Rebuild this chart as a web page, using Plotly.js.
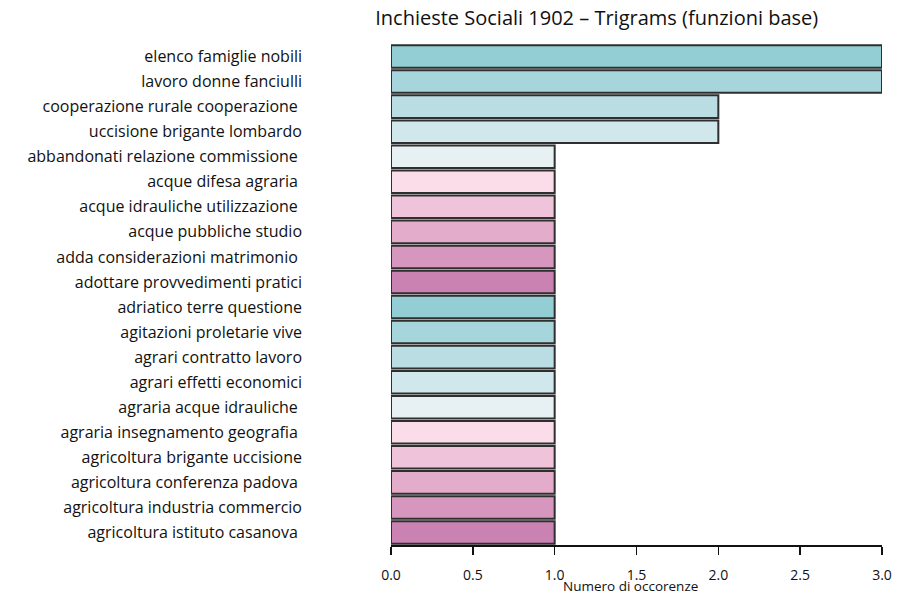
<!DOCTYPE html>
<html><head><meta charset="utf-8">
<script src="https://cdn.plot.ly/plotly-3.0.1.min.js"></script>
<style>body{margin:0;background:#fff}#c{width:911px;height:597px}</style>
</head><body><div id="c"></div>
<script>
const trigrams = [
  "elenco famiglie nobili",
  "lavoro donne fanciulli",
  "cooperazione rurale cooperazione\u00a0",
  "uccisione brigante lombardo",
  "abbandonati relazione commissione\u00a0",
  "acque difesa agraria\u00a0",
  "acque idrauliche utilizzazione\u00a0",
  "acque pubbliche studio",
  "adda considerazioni matrimonio\u00a0",
  "adottare provvedimenti pratici",
  "adriatico terre questione",
  "agitazioni proletarie vive",
  "agrari contratto lavoro",
  "agrari effetti economici",
  "agraria acque idrauliche\u00a0",
  "agraria insegnamento geografia\u00a0",
  "agricoltura brigante uccisione",
  "agricoltura conferenza padova\u00a0",
  "agricoltura industria commercio",
  "agricoltura istituto casanova\u00a0"
];
const occorrenze = [3,3,2,2,1,1,1,1,1,1,1,1,1,1,1,1,1,1,1,1];
const palette = ["#93CED4","#A6D5DC","#BADDE3","#D0E7EB","#E7F1F4","#FBDDE9","#EFC4DA","#E3ACCB","#D696BE","#CA82B2"];
const barColors = trigrams.map((_, i) => palette[i % palette.length]);
const xTicks = [0, 0.5, 1, 1.5, 2, 2.5, 3];

const font = "'Open Sans', 'Noto Sans', sans-serif";
Plotly.newPlot("c", [{
  type: "bar",
  orientation: "h",
  y: trigrams,
  x: occorrenze,
  marker: {color: barColors, line: {color: "#2f2f2f", width: 2}},
  hoverinfo: "x+y"
}], {
  width: 911, height: 597,
  margin: {l: 391, r: 29, t: 44, b: 52},
  paper_bgcolor: "#fff", plot_bgcolor: "#fff",
  bargap: 0.1,
  showlegend: false,
  font: {family: font, color: "#111"},
  title: {text: "Inchieste Sociali 1902 – Trigrams (funzioni base)", font: {size: 20, family: font, color: "#111"}, x: 0.655, xanchor: "center", y: 0.97, yanchor: "middle"},
  xaxis: {
    range: [0, 3], tickvals: xTicks, tickformat: ".1f",
    showgrid: false, zeroline: false, showline: true, linecolor: "#111", linewidth: 1.5,
    ticks: "outside", ticklen: 8, tickwidth: 1.5, tickcolor: "#111",
    tickfont: {size: 14}, ticklabelstandoff: 9
  },
  yaxis: {
    type: "category", categoryorder: "array", categoryarray: trigrams, autorange: "reversed",
    showgrid: false, zeroline: false, showline: false, ticks: "",
    tickfont: {size: 16}, ticklabelstandoff: 88
  },
  annotations: [{
    text: "Numero di occorenze", xref: "paper", yref: "paper", x: 0.487, y: -0.082,
    xanchor: "center", yanchor: "middle", showarrow: false, font: {size: 13.5, color: "#111"}
  }]
}, {displayModeBar: false, staticPlot: true});
</script></body></html>
